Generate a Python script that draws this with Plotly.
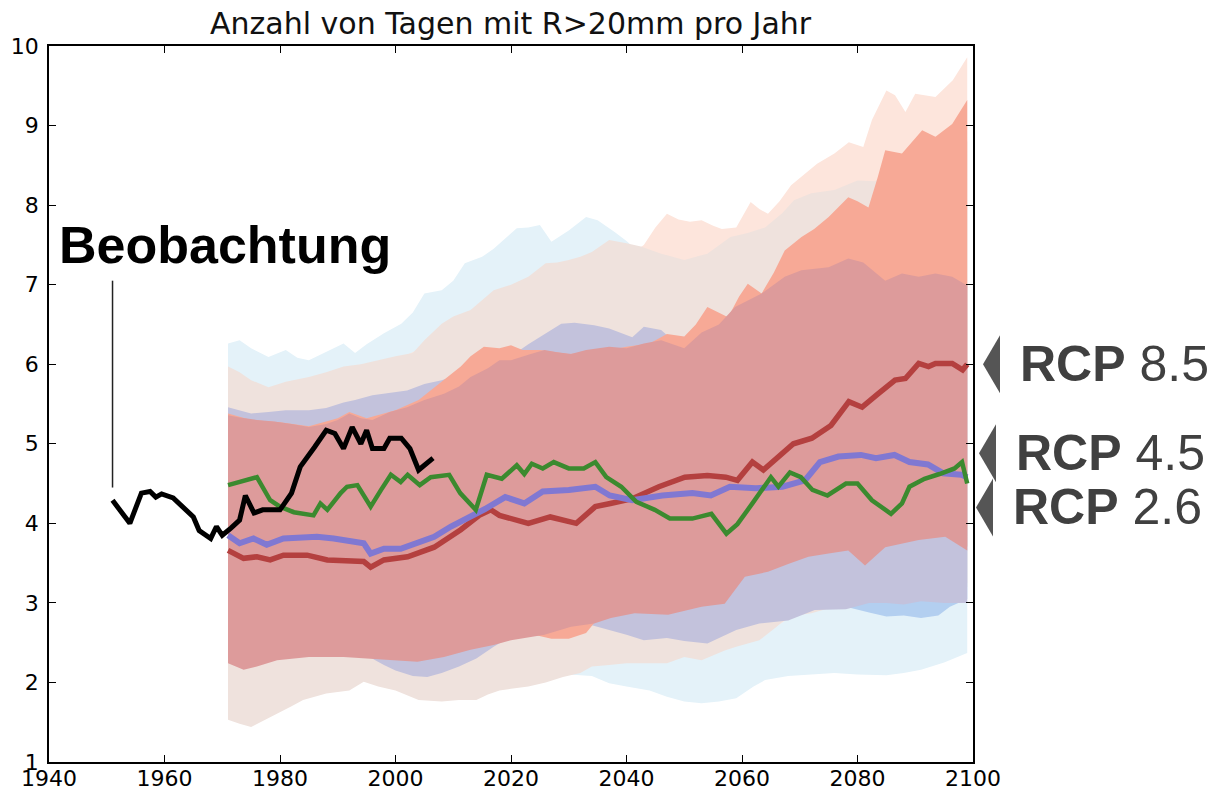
import plotly.graph_objects as go

# ---------------- observations ----------------
obs_years = [1951, 1954, 1956, 1957.5, 1958.5, 1959.5, 1961.5, 1963, 1965, 1966, 1968, 1969,
             1970, 1971.5, 1973, 1974, 1975.5, 1977, 1980, 1982, 1983.5, 1986, 1988, 1989.5,
             1991, 1992.5, 1994, 1995, 1996, 1998, 1999, 2001, 2002.5, 2004, 2006.5]
obs_vals = [4.29, 4.00, 4.38, 4.40, 4.33, 4.37, 4.32, 4.21, 4.08, 3.91, 3.81, 3.96,
            3.85, 3.94, 4.04, 4.35, 4.13, 4.17, 4.17, 4.38, 4.71, 4.96, 5.17, 5.13,
            4.94, 5.21, 5.00, 5.17, 4.94, 4.94, 5.07, 5.07, 4.94, 4.67, 4.82]

# ---------------- ensemble means ----------------
rcp26_years = [1971, 1973, 1976, 1978.3, 1980, 1982.4, 1984.7, 1985.8, 1987, 1988.2, 1990.5, 1991.6,
               1993.4, 1995.7, 1997.5, 1999.2, 2000.9, 2002.1, 2004.2, 2006.1, 2009.3, 2011.2,
               2013.9, 2015.8, 2018.4, 2021, 2022.3, 2023.6, 2025.5, 2027.4, 2030, 2032.6,
               2034.6, 2036.5, 2039.1, 2041.7, 2044.9, 2047.5, 2051.4, 2054.7, 2057.3, 2059.2,
               2061.8, 2065, 2066.3, 2068.3, 2070.2, 2072.2, 2074.8, 2078, 2080, 2082.5,
               2085.8, 2087.7, 2089, 2091.6, 2094.2, 2096.8, 2098.1, 2099]
rcp26_vals = [4.48, 4.52, 4.58, 4.29, 4.21, 4.14, 4.12, 4.10, 4.25, 4.17, 4.38, 4.46,
              4.48, 4.21, 4.42, 4.61, 4.52, 4.61, 4.48, 4.58, 4.61, 4.38,
              4.17, 4.61, 4.56, 4.73, 4.62, 4.75, 4.69, 4.77, 4.69, 4.69,
              4.77, 4.58, 4.46, 4.27, 4.17, 4.06, 4.06, 4.12, 3.87, 3.99,
              4.25, 4.58, 4.46, 4.64, 4.58, 4.42, 4.35, 4.50, 4.50, 4.29,
              4.12, 4.25, 4.46, 4.56, 4.62, 4.69, 4.77, 4.50]

rcp45_years = [1971, 1973, 1975.4, 1977.7, 1980.6, 1986.4, 1989.3, 1992.2, 1994.5, 1995.7, 1998,
               2000.9, 2003.8, 2006.7, 2009.6, 2012.5, 2015.5, 2019, 2022.3, 2025.5, 2030,
               2034.6, 2037.1, 2041, 2046.2, 2051.4, 2054.6, 2057.9, 2062.4, 2067, 2070.9,
               2073.5, 2076.7, 2080.6, 2083.2, 2086.4, 2089, 2092.2, 2094.8, 2098, 2099]
rcp45_vals = [3.85, 3.75, 3.81, 3.73, 3.81, 3.83, 3.81, 3.77, 3.75, 3.62, 3.68,
              3.68, 3.75, 3.83, 3.96, 4.06, 4.18, 4.33, 4.25, 4.40, 4.42,
              4.46, 4.35, 4.29, 4.35, 4.38, 4.35, 4.46, 4.44, 4.46, 4.54,
              4.77, 4.84, 4.86, 4.82, 4.86, 4.77, 4.74, 4.63, 4.61, 4.58]

rcp85_years = [1971, 1973.7, 1976, 1978.3, 1980.6, 1984.7, 1988.2, 1992.2, 1994.5, 1995.7, 1998,
               2002.1, 2006.7, 2011.3, 2014.5, 2016.5, 2018, 2023, 2026.8, 2031.3, 2034.6,
               2037.2, 2041, 2045.6, 2050.1, 2054, 2057.2, 2059.2, 2061.8, 2063.7, 2065.7,
               2068.9, 2072.1, 2075.4, 2078.5, 2080.8, 2083.6, 2086.5, 2088.3, 2090.6, 2092.3,
               2093.5, 2096.4, 2098.2, 2099]
rcp85_vals = [3.66, 3.56, 3.58, 3.54, 3.60, 3.60, 3.54, 3.52, 3.52, 3.45, 3.54,
              3.58, 3.70, 3.92, 4.10, 4.17, 4.10, 4.00, 4.08, 4.00, 4.21,
              4.25, 4.31, 4.46, 4.58, 4.60, 4.58, 4.54, 4.77, 4.67, 4.79,
              5.00, 5.07, 5.23, 5.53, 5.46, 5.63, 5.80, 5.82, 6.01, 5.97,
              6.01, 6.01, 5.93, 6.00]

# ---------------- ensemble spread bands ----------------
# outer range, RCP2.6 (light cyan)
cyan_up_years = [1971, 1973, 1975, 1978, 1981, 1983, 1985, 1988, 1991, 1993, 1995, 1998, 2001,
                 2003, 2005, 2008, 2010, 2012, 2015, 2017, 2019, 2021, 2023, 2025, 2027, 2030,
                 2033, 2035, 2038, 2040, 2043, 2046, 2050, 2055, 2060, 2065, 2070, 2075, 2080,
                 2085, 2090, 2099]
cyan_up_vals = [6.26, 6.30, 6.20, 6.09, 6.18, 6.08, 6.05, 6.15, 6.26, 6.14, 6.25, 6.39, 6.51,
                6.65, 6.89, 6.93, 7.05, 7.27, 7.35, 7.45, 7.58, 7.71, 7.72, 7.75, 7.54, 7.68,
                7.85, 7.81, 7.66, 7.55, 7.35, 7.20, 7.20, 7.25, 7.30, 7.40, 7.50, 7.60, 7.70,
                7.80, 7.90, 8.00]
cyan_lo_years = [1971, 1975, 1980, 1985, 1990, 1995, 2000, 2005, 2010, 2015, 2020, 2025, 2030,
                 2034, 2037, 2040, 2044, 2047, 2050, 2053, 2056, 2059, 2062, 2064, 2068, 2072,
                 2076, 2080, 2085, 2088, 2091, 2095, 2099]
cyan_lo_vals = [1.65, 1.55, 1.72, 1.88, 1.98, 2.10, 2.00, 1.90, 1.88, 1.90, 2.00, 2.05, 2.10,
                2.08, 1.99, 1.95, 1.90, 1.82, 1.76, 1.74, 1.76, 1.80, 1.95, 2.03, 2.08, 2.10,
                2.12, 2.10, 2.09, 2.12, 2.16, 2.25, 2.37]

# outer range, RCP8.5 (pale salmon)
pale_up_years = [1971, 1975, 1980, 1985, 1990, 1995, 2000, 2005, 2010, 2015, 2020, 2025, 2030,
                 2035, 2040, 2043, 2045, 2047, 2049, 2051, 2053, 2055, 2056.5, 2059, 2061.5,
                 2063, 2064.5, 2066.5, 2068.5, 2071, 2073, 2076, 2078.5, 2081, 2082.5, 2085,
                 2086.5, 2088.3, 2090, 2093.5, 2096.5, 2099]
pale_up_vals = [5.90, 5.65, 5.70, 5.78, 5.90, 5.98, 6.05, 6.22, 6.45, 6.70, 6.90, 7.10, 7.20,
                7.30, 7.35, 7.50, 7.72, 7.89, 7.82, 7.79, 7.81, 7.74, 7.70, 7.72, 8.04,
                7.95, 7.89, 8.05, 8.25, 8.40, 8.52, 8.65, 8.79, 8.73, 9.07, 9.44,
                9.38, 9.17, 9.40, 9.36, 9.57, 9.86]
pale_lo_years = [1971, 1975, 1980, 1985, 1990, 1995, 2000, 2005, 2010, 2015, 2020, 2025, 2030,
                 2035, 2040, 2045, 2050, 2055, 2060, 2065, 2070, 2075, 2080, 2085, 2090, 2095, 2099]
pale_lo_vals = [1.60, 1.52, 1.68, 1.86, 1.94, 2.04, 1.96, 1.84, 1.82, 1.86, 1.98, 2.04, 2.14,
                2.26, 2.30, 2.30, 2.38, 2.40, 2.52, 2.66, 2.90, 3.00, 3.10, 3.15, 3.15, 3.17, 3.25]

# outer range, RCP4.5 (grey beige)
beige_up_years = [1971, 1973, 1975, 1978, 1981, 1985, 1988, 1991, 1994, 1997, 2000, 2003, 2005,
                  2008, 2010, 2013, 2015, 2017, 2020, 2023, 2026, 2028, 2030, 2032, 2034, 2037,
                  2040, 2042.5, 2046, 2050, 2054, 2058, 2061, 2064, 2067, 2069, 2072, 2076, 2080,
                  2083, 2086, 2090, 2095, 2099]
beige_up_vals = [5.97, 5.90, 5.80, 5.71, 5.78, 5.84, 5.90, 5.97, 6.00, 6.05, 6.10, 6.14, 6.30,
                 6.51, 6.60, 6.68, 6.80, 6.93, 7.00, 7.10, 7.27, 7.28, 7.31, 7.35, 7.41, 7.56,
                 7.52, 7.48, 7.39, 7.31, 7.39, 7.60, 7.65, 7.72, 7.90, 8.06, 8.15, 8.19, 8.31,
                 8.30, 8.40, 8.50, 8.60, 8.80]
beige_lo_years = [1971, 1973, 1975, 1977, 1979.5, 1982, 1984, 1986, 1988, 1992, 1994.5, 1997,
                  2000, 2004, 2008, 2011, 2014, 2016, 2018, 2020, 2023, 2026, 2029, 2032, 2034,
                  2037, 2040, 2044, 2047, 2050, 2053, 2057, 2059, 2063, 2066, 2068, 2072, 2076,
                  2080, 2085, 2090, 2095, 2099]
beige_lo_vals = [1.53, 1.48, 1.44, 1.52, 1.61, 1.70, 1.78, 1.82, 1.86, 1.90, 2.01, 1.95,
                 1.90, 1.78, 1.76, 1.78, 1.78, 1.85, 1.90, 1.92, 1.95, 2.00, 2.07, 2.12, 2.20,
                 2.22, 2.24, 2.24, 2.24, 2.32, 2.28, 2.40, 2.45, 2.53, 2.70, 2.83, 2.87, 2.95,
                 3.05, 3.10, 3.10, 3.12, 3.20]

# inner range, RCP2.6 (light blue)
blue_up_years = [1971, 2000, 2040, 2099]
blue_up_vals = [5.00, 5.30, 5.80, 6.00]
blue_lo_years = [1971, 2000, 2020, 2040, 2060, 2070, 2078, 2082, 2085, 2088, 2091, 2094, 2096, 2099]
blue_lo_vals = [2.50, 2.50, 2.70, 2.85, 2.75, 2.90, 2.95, 2.88, 2.83, 2.84, 2.81, 2.84, 2.95, 3.05]

# inner range, RCP4.5 (lavender)
lav_up_years = [1971, 1973, 1975, 1978, 1981, 1985, 1988, 1991, 1993, 1996, 1999, 2002, 2005,
                2008, 2012, 2016, 2020, 2023, 2025.8, 2028.7, 2031, 2034.4, 2037, 2039, 2041,
                2043, 2046, 2048, 2052, 2056, 2060, 2065, 2070, 2075, 2080, 2085, 2090, 2095, 2099]
lav_up_vals = [5.46, 5.42, 5.38, 5.40, 5.42, 5.42, 5.45, 5.52, 5.55, 5.61, 5.64, 5.67, 5.75,
               5.80, 5.90, 6.00, 6.10, 6.25, 6.38, 6.51, 6.52, 6.49, 6.45, 6.40, 6.34,
               6.47, 6.43, 6.30, 6.30, 6.40, 6.50, 6.60, 6.70, 6.80, 6.90, 6.95, 7.00, 7.00, 7.00]
lav_lo_years = [1971, 1980, 1990, 1995, 1998, 2000, 2003, 2005.5, 2008, 2011, 2014, 2017, 2020,
                2025, 2030, 2034, 2037, 2040, 2043, 2047, 2050, 2054, 2059, 2063, 2068, 2072.6,
                2078, 2082, 2085, 2088, 2091, 2095, 2099]
lav_lo_vals = [2.35, 2.40, 2.38, 2.34, 2.22, 2.15, 2.08, 2.07, 2.12, 2.20, 2.30, 2.45, 2.58,
               2.65, 2.72, 2.72, 2.66, 2.60, 2.53, 2.56, 2.52, 2.49, 2.66, 2.74, 2.78, 2.91,
               2.92, 3.00, 3.00, 2.98, 3.02, 3.00, 3.00]

# inner range, RCP8.5 (salmon)
salmon_up_years = [1971, 1975, 1980, 1985, 1990, 1992, 1995, 2000, 2004, 2008.4, 2011.3, 2013,
                   2015.3, 2018, 2020, 2022, 2025, 2030, 2035, 2040, 2044, 2047, 2050, 2052,
                   2054, 2057.6, 2059.5, 2061, 2063.4, 2065.5, 2067.4, 2070.3, 2072.5, 2075,
                   2078.4, 2080, 2081.9, 2083.5, 2084.8, 2087.7, 2091.2, 2093.5, 2096.4, 2099]
salmon_up_vals = [5.38, 5.30, 5.27, 5.22, 5.32, 5.40, 5.32, 5.42, 5.55, 5.80, 5.97, 6.10,
                  6.22, 6.20, 6.24, 6.18, 6.18, 6.13, 6.15, 6.22, 6.26, 6.38, 6.35, 6.50,
                  6.72, 6.59, 6.85, 7.01, 6.89, 7.15, 7.43, 7.60, 7.70, 7.85,
                  8.10, 8.05, 7.97, 8.35, 8.69, 8.65, 8.94, 8.86, 9.02, 9.32]
salmon_lo_years = [1971, 1980, 1990, 2000, 2010, 2020, 2024, 2027, 2030, 2033, 2035, 2037.3,
                   2041.4, 2047.2, 2053, 2057, 2060.5, 2064.5, 2068, 2071.5, 2075, 2078.4,
                   2081.3, 2084.8, 2090.6, 2095.2, 2099]
salmon_lo_vals = [2.30, 2.33, 2.37, 2.33, 2.38, 2.58, 2.60, 2.55, 2.55, 2.62, 2.80, 2.86,
                  2.92, 2.90, 3.00, 3.04, 3.38, 3.44, 3.54, 3.63, 3.67, 3.71,
                  3.52, 3.75, 3.84, 3.88, 3.71]

# common core range (rose)
rose_up_years = [1971, 1973, 1976, 1979, 1982, 1985, 1988, 1990, 1992, 1994, 1996, 1999, 2002,
                 2005, 2008.4, 2011, 2013, 2016, 2018, 2020, 2023, 2025.8, 2028, 2030.4, 2033,
                 2037, 2040, 2043, 2046, 2050, 2053, 2056, 2058.8, 2061, 2063.4, 2065.5, 2067.4,
                 2070.3, 2073, 2075, 2078.4, 2081, 2084.8, 2087.7, 2090.6, 2093.5, 2096.4, 2099]
rose_up_vals = [5.36, 5.33, 5.30, 5.28, 5.25, 5.21, 5.25, 5.30, 5.38, 5.32, 5.30, 5.40, 5.46,
                5.55, 5.63, 5.72, 5.84, 5.95, 6.05, 6.05, 6.12, 6.18, 6.15, 6.13, 6.18,
                6.22, 6.20, 6.26, 6.30, 6.20, 6.40, 6.50, 6.72, 6.80, 6.89, 7.00, 7.10,
                7.18, 7.20, 7.22, 7.33, 7.28, 7.05, 7.14, 7.10, 7.14, 7.10, 6.99]
rose_lo_years = [1971, 1973.7, 1976, 1979.5, 1985, 1991, 1995.7, 1999.7, 2003.8, 2008.4, 2013,
                 2017, 2020, 2025.8, 2030.4, 2034.4, 2037.3, 2041.4, 2047.2, 2053, 2057,
                 2060.5, 2064.5, 2068, 2071.5, 2075, 2078.4, 2081.3, 2084.8, 2090.6, 2095.2, 2099]
rose_lo_vals = [2.24, 2.16, 2.20, 2.28, 2.32, 2.32, 2.30, 2.28, 2.26, 2.32, 2.41,
                2.47, 2.53, 2.60, 2.70, 2.74, 2.81, 2.87, 2.85, 2.95, 2.99,
                3.33, 3.39, 3.49, 3.58, 3.62, 3.66, 3.47, 3.70, 3.79, 3.83, 3.66]

# scenario labels at the right margin
rcp_labels = ["8.5", "4.5", "2.6"]
rcp_label_y = [6.0, 4.88, 4.2]

x_ticks = list(range(1940, 2101, 20))
y_ticks = list(range(1, 11))

fig = go.Figure()


def add_band(up_x, up_y, lo_x, lo_y, color):
    fig.add_trace(go.Scatter(
        x=up_x + lo_x[::-1], y=up_y + lo_y[::-1],
        mode="lines", fill="toself", fillcolor=color,
        line=dict(width=0), hoverinfo="skip", showlegend=False))


add_band(cyan_up_years, cyan_up_vals, cyan_lo_years, cyan_lo_vals, "#e4f2f9")
add_band(pale_up_years, pale_up_vals, pale_lo_years, pale_lo_vals, "#fde5dc")
add_band(beige_up_years, beige_up_vals, beige_lo_years, beige_lo_vals, "#efe2dd")
add_band(blue_up_years, blue_up_vals, blue_lo_years, blue_lo_vals, "#b3cff0")
add_band(lav_up_years, lav_up_vals, lav_lo_years, lav_lo_vals, "#c3c2dc")
add_band(salmon_up_years, salmon_up_vals, salmon_lo_years, salmon_lo_vals, "#f7a996")
add_band(rose_up_years, rose_up_vals, rose_lo_years, rose_lo_vals, "#dd9b9b")

for xs, ys, col, w in [(rcp85_years, rcp85_vals, "#b4403f", 5.5),
                       (rcp45_years, rcp45_vals, "#8078d2", 6),
                       (rcp26_years, rcp26_vals, "#3b8a2f", 4.5),
                       (obs_years, obs_vals, "#000000", 5)]:
    fig.add_trace(go.Scatter(x=xs, y=ys, mode="lines",
                             line=dict(color=col, width=w),
                             hoverinfo="skip", showlegend=False))

axis_style = dict(showline=True, linecolor="black", linewidth=1.5, mirror="allticks",
                  ticks="inside", ticklen=7, tickwidth=1, tickcolor="black",
                  showgrid=False, zeroline=False, automargin=False,
                  tickfont=dict(family="DejaVu Sans", size=22, color="black"))

fig.update_xaxes(range=[1940, 2100], tickvals=x_ticks, ticklabelstandoff=-4, **axis_style)
fig.update_yaxes(range=[1, 10], tickvals=y_ticks, ticklabelstandoff=4, **axis_style)

# title
fig.add_annotation(text="Anzahl von Tagen mit R>20mm pro Jahr", xref="paper", yref="paper",
                   x=0.5, y=1.0, yshift=23, xanchor="center", yanchor="middle",
                   showarrow=False, font=dict(family="DejaVu Sans", size=30, color="#111111"))

# observation label with leader line
fig.add_annotation(text="<b>Beobachtung</b>", xref="x", yref="y", x=1941.3, y=7.5,
                   xanchor="left", yanchor="middle", showarrow=False,
                   font=dict(family="Liberation Sans, Arial", size=52, color="black"))
fig.add_shape(type="line", xref="x", yref="y", x0=obs_years[0], x1=obs_years[0],
              y0=obs_vals[0] + 0.16, y1=7.05, line=dict(color="#222222", width=1.5))

# scenario pointers and labels
label_x_shift = [0, -4, -7]
for lab, yv, dx in zip(rcp_labels, rcp_label_y, label_x_shift):
    fig.add_shape(type="path", xref="paper", yref="y", xsizemode="pixel", ysizemode="pixel",
                  xanchor=1, yanchor=yv,
                  path=f"M {10 + dx},0 L {27 + dx},29 L {27 + dx},-29 Z",
                  fillcolor="#555555", line=dict(width=0))
    fig.add_annotation(text=f"<b>RCP</b> {lab}", xref="paper", yref="y", x=1, xshift=45 + dx,
                       y=yv, xanchor="left", yanchor="middle", showarrow=False,
                       font=dict(family="Liberation Sans, Arial", size=50, color="#404040"))

fig.update_layout(width=1216, height=792, margin=dict(l=49, r=243, t=46, b=30),
                  plot_bgcolor="white", paper_bgcolor="white", showlegend=False)

fig.write_html("out.html")
